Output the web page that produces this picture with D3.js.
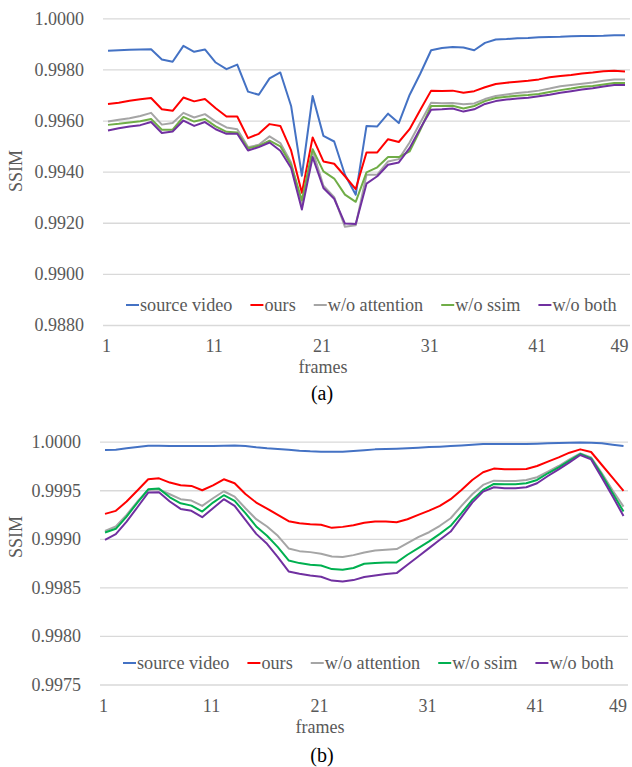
<!DOCTYPE html>
<html>
<head>
<meta charset="utf-8">
<script src="https://cdn.jsdelivr.net/npm/d3@7/dist/d3.min.js"></script>
<style>
  html, body { margin: 0; padding: 0; background: #fff; }
  svg { display: block; }
  text { font-family: "Liberation Serif", "Times New Roman", serif; }
</style>
</head>
<body>
<svg id="chart" width="632" height="767"></svg>
<script>
// ---------------- DATA ----------------
const frames = [1,2,3,4,5,6,7,8,9,10,11,12,13,14,15,16,17,18,19,20,21,22,23,24,25,26,27,28,29,30,31,32,33,34,35,36,37,38,39,40,41,42,43,44,45,46,47,48,49];
const xTickLabels = [1, 11, 21, 31, 41, 49];
const seriesNames = ["source video", "ours", "w/o attention", "w/o ssim", "w/o both"];

// (a)
const yTicksA = [0.9880, 0.9900, 0.9920, 0.9940, 0.9960, 0.9980, 1.0000];
const aSource = [0.99873,0.99875,0.99877,0.99878,0.99879,0.99839,0.99830,0.99892,0.99869,0.99878,0.99827,0.99801,0.99819,0.99713,0.99701,0.99765,0.99788,0.99657,0.99384,0.99696,0.99540,0.99518,0.99388,0.99310,0.99579,0.99577,0.99627,0.99590,0.99700,0.99784,0.99875,0.99884,0.99888,0.99886,0.99875,0.99904,0.99917,0.99919,0.99922,0.99923,0.99926,0.99927,0.99928,0.99930,0.99931,0.99931,0.99932,0.99934,0.99934];
const aOurs = [0.99665,0.99670,0.99677,0.99683,0.99688,0.99644,0.99638,0.99690,0.99675,0.99684,0.99648,0.99616,0.99616,0.99531,0.99548,0.99586,0.99579,0.99483,0.99317,0.99534,0.99440,0.99431,0.99382,0.99332,0.99475,0.99475,0.99527,0.99516,0.99566,0.99642,0.99717,0.99716,0.99717,0.99709,0.99715,0.99730,0.99743,0.99748,0.99752,0.99756,0.99761,0.99769,0.99774,0.99778,0.99784,0.99788,0.99793,0.99795,0.99792];
const aAttention = [0.99596,0.99603,0.99609,0.99618,0.99630,0.99584,0.99590,0.99630,0.99612,0.99625,0.99596,0.99573,0.99566,0.99496,0.99505,0.99538,0.99512,0.99436,0.99268,0.99483,0.99345,0.99300,0.99184,0.99190,0.99388,0.99388,0.99440,0.99449,0.99514,0.99592,0.99670,0.99668,0.99669,0.99664,0.99667,0.99684,0.99696,0.99702,0.99708,0.99712,0.99717,0.99725,0.99734,0.99739,0.99744,0.99749,0.99756,0.99761,0.99761];
const aSsim = [0.99583,0.99587,0.99592,0.99597,0.99606,0.99564,0.99564,0.99614,0.99596,0.99606,0.99577,0.99556,0.99553,0.99491,0.99501,0.99521,0.99499,0.99427,0.99288,0.99488,0.99401,0.99373,0.99310,0.99282,0.99397,0.99417,0.99457,0.99457,0.99479,0.99564,0.99657,0.99657,0.99658,0.99647,0.99657,0.99676,0.99688,0.99693,0.99697,0.99700,0.99704,0.99712,0.99719,0.99725,0.99732,0.99735,0.99741,0.99747,0.99747];
const aBoth = [0.99561,0.99570,0.99577,0.99582,0.99594,0.99551,0.99557,0.99600,0.99579,0.99594,0.99566,0.99548,0.99548,0.99483,0.99496,0.99514,0.99482,0.99414,0.99252,0.99457,0.99336,0.99294,0.99197,0.99195,0.99353,0.99382,0.99427,0.99436,0.99492,0.99570,0.99642,0.99644,0.99647,0.99635,0.99644,0.99665,0.99676,0.99682,0.99686,0.99689,0.99695,0.99701,0.99709,0.99715,0.99721,0.99726,0.99733,0.99739,0.99739];

// (b)
const yTicksB = [0.9975, 0.9980, 0.9985, 0.9990, 0.9995, 1.0000];
const bSource = [0.999914,0.999918,0.999932,0.999945,0.999959,0.999959,0.999955,0.999955,0.999955,0.999955,0.999955,0.999959,0.999962,0.999955,0.999942,0.999932,0.999925,0.999918,0.999908,0.999901,0.999897,0.999897,0.999897,0.999904,0.999912,0.999921,0.999925,0.999928,0.999932,0.999938,0.999945,0.999949,0.999955,0.999962,0.999969,0.999976,0.999976,0.999976,0.999976,0.999976,0.999979,0.999983,0.999986,0.999990,0.999993,0.999990,0.999983,0.999969,0.999955];
const bOurs = [0.999257,0.999288,0.999384,0.999497,0.999613,0.999623,0.999579,0.999551,0.999545,0.999500,0.999551,0.999613,0.999572,0.999462,0.999373,0.999312,0.999247,0.999182,0.999161,0.999151,0.999144,0.999113,0.999123,0.999140,0.999165,0.999178,0.999178,0.999171,0.999202,0.999247,0.999291,0.999339,0.999408,0.999503,0.999606,0.999685,0.999723,0.999716,0.999716,0.999719,0.999750,0.999795,0.999839,0.999887,0.999921,0.999894,0.999760,0.999627,0.999493];
const bAttention = [0.999082,0.999127,0.999247,0.999384,0.999503,0.999510,0.999459,0.999408,0.999394,0.999339,0.999418,0.999490,0.999435,0.999315,0.999202,0.999127,0.999031,0.998901,0.998873,0.998863,0.998846,0.998818,0.998812,0.998832,0.998860,0.998880,0.998887,0.998894,0.998955,0.999017,0.999068,0.999134,0.999212,0.999339,0.999459,0.999555,0.999599,0.999596,0.999596,0.999606,0.999634,0.999692,0.999750,0.999818,0.999880,0.999839,0.999675,0.999497,0.999332];
const bSsim = [0.999065,0.999103,0.999229,0.999373,0.999510,0.999517,0.999428,0.999366,0.999342,0.999281,0.999373,0.999449,0.999390,0.999264,0.999127,0.999031,0.998914,0.998777,0.998750,0.998733,0.998726,0.998688,0.998682,0.998699,0.998743,0.998750,0.998757,0.998757,0.998836,0.998904,0.998973,0.999051,0.999134,0.999264,0.999401,0.999503,0.999565,0.999562,0.999562,0.999572,0.999606,0.999675,0.999736,0.999805,0.999873,0.999829,0.999658,0.999469,0.999281];
const bBoth = [0.998990,0.999048,0.999178,0.999325,0.999476,0.999479,0.999384,0.999308,0.999288,0.999223,0.999315,0.999408,0.999339,0.999195,0.999051,0.998949,0.998812,0.998664,0.998640,0.998623,0.998610,0.998570,0.998560,0.998575,0.998606,0.998623,0.998637,0.998647,0.998733,0.998818,0.998904,0.998990,0.999075,0.999223,0.999373,0.999486,0.999531,0.999521,0.999521,0.999531,0.999572,0.999647,0.999716,0.999788,0.999863,0.999818,0.999630,0.999435,0.999236];

// ---------------- DRAWING ----------------
const svg = d3.select("#chart");
const TXT = "#595959";

function drawPanel(opt) {
  const g = svg.append("g");
  const x = d3.scaleLinear().domain([frames[0], frames[frames.length - 1]]).range([opt.x0, opt.x1]);
  const y = d3.scaleLinear().domain([opt.yTicks[0], opt.yTicks[opt.yTicks.length - 1]]).range([opt.yBottom, opt.yTop]);

  // gridlines
  g.append("g")
    .attr("transform", `translate(${opt.gridL},0)`)
    .call(d3.axisLeft(y).tickValues(opt.yTicks).tickSize(-(opt.gridR - opt.gridL)).tickFormat(""))
    .call(s => s.select(".domain").remove())
    .call(s => s.selectAll(".tick line").attr("stroke", "#d9d9d9").attr("stroke-width", 1.3));

  // y tick labels
  g.append("g")
    .attr("transform", `translate(${opt.yLabelX},0)`)
    .call(d3.axisLeft(y).tickValues(opt.yTicks).tickSize(0).tickPadding(0).tickFormat(d3.format(".4f")))
    .call(s => s.select(".domain").remove())
    .call(s => s.selectAll(".tick text")
      .attr("fill", TXT).style("font-size", "18px")
      .style("font-family", '"Liberation Serif", serif'));

  // x tick labels
  const lastTick = xTickLabels[xTickLabels.length - 1];
  g.append("g")
    .attr("transform", `translate(-2,${opt.xLabelY})`)
    .call(d3.axisBottom(x).tickValues(xTickLabels).tickSize(0).tickPadding(0).tickFormat(d3.format("d")))
    .call(s => s.select(".domain").remove())
    .call(s => s.selectAll(".tick text")
      .attr("fill", TXT).attr("dy", "0.32em").attr("y", 0).style("font-size", "18px")
      .attr("x", d => d === lastTick ? -4 : 0)
      .style("font-family", '"Liberation Serif", serif'));

  // lines
  const line = d3.line().x((d, i) => x(frames[i])).y(d => y(d));
  opt.series.forEach((s, k) => {
    g.append("path")
      .datum(s)
      .attr("fill", "none")
      .attr("stroke", opt.colors[k])
      .attr("stroke-width", 2)
      .attr("stroke-linejoin", "round")
      .attr("d", line);
  });

  // axis titles
  g.append("text")
    .attr("transform", `translate(${opt.ssimX},${opt.ssimY}) rotate(-90)`)
    .attr("text-anchor", "middle").attr("dy", "0.32em")
    .attr("fill", TXT).style("font-size", "18px").text("SSIM");
  g.append("text")
    .attr("x", opt.framesX).attr("y", opt.framesY)
    .attr("text-anchor", "middle").attr("dy", "0.32em")
    .attr("fill", TXT).style("font-size", "18px").text("frames");
  g.append("text")
    .attr("x", opt.capX).attr("y", opt.capY)
    .attr("text-anchor", "middle").attr("dy", "0.32em")
    .attr("fill", "#000").style("font-size", "20px").text(opt.caption);

  // legend
  const lg = g.append("g").attr("transform", `translate(${opt.legX},${opt.legY})`);
  let cx = 0;
  seriesNames.forEach((name, k) => {
    lg.append("line").attr("x1", cx).attr("x2", cx + 13).attr("y1", 0).attr("y2", 0)
      .attr("stroke", opt.colors[k]).attr("stroke-width", 2);
    const t = lg.append("text").attr("x", cx + 14).attr("y", 0).attr("dy", "0.32em")
      .attr("fill", TXT).style("font-size", "18.2px").text(name);
    cx += 14 + t.node().getComputedTextLength() + 18;
  });
}

drawPanel({
  series: [aSource, aOurs, aAttention, aSsim, aBoth],
  colors: ["#4472C4", "#FF0000", "#A5A5A5", "#70AD47", "#7030A0"],
  yTicks: yTicksA, yTop: 18.3, yBottom: 325,
  x0: 108, x1: 625, gridL: 103, gridR: 630,
  yLabelX: 84, xLabelY: 346, ssimX: 16, ssimY: 171,
  framesX: 323, framesY: 367, capX: 322, capY: 394, caption: "(a)",
  legX: 126, legY: 305
});

drawPanel({
  series: [bSource, bOurs, bAttention, bSsim, bBoth],
  colors: ["#4472C4", "#FF0000", "#A5A5A5", "#00B050", "#7030A0"],
  yTicks: yTicksB, yTop: 441.7, yBottom: 684.5,
  x0: 105, x1: 623.5, gridL: 100, gridR: 628,
  yLabelX: 81, xLabelY: 706, ssimX: 16, ssimY: 537,
  framesX: 320, framesY: 727, capX: 322, capY: 756, caption: "(b)",
  legX: 123, legY: 663
});
</script>
</body>
</html>
